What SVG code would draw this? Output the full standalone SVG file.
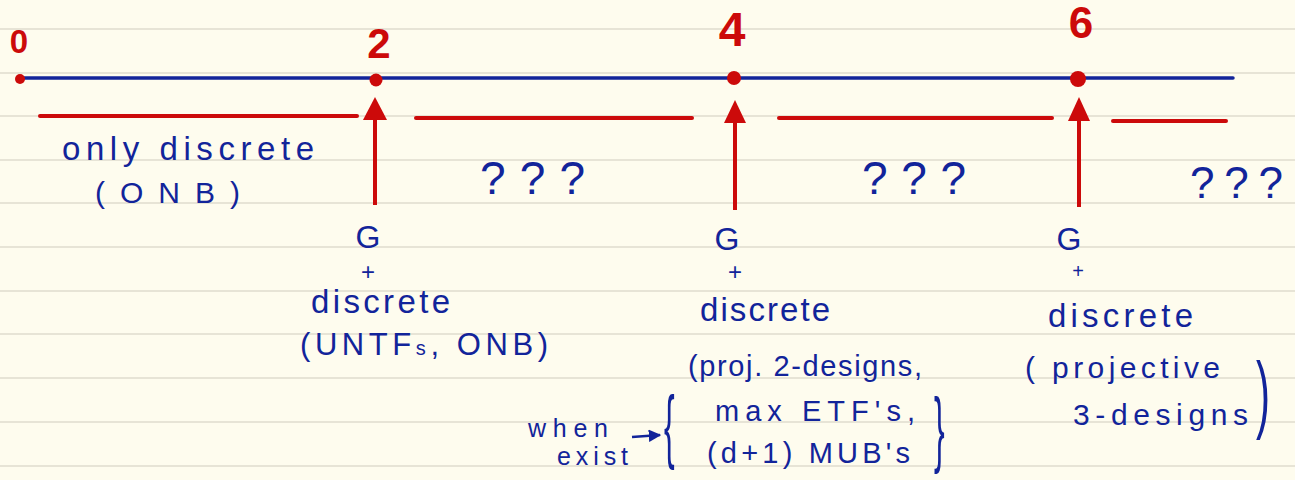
<svg xmlns="http://www.w3.org/2000/svg" width="1295" height="480" viewBox="0 0 1295 480">
<style>
.bg{fill:#fefcee}
.rule{stroke:#e7e4d6;stroke-width:2}
.t{font-family:"Liberation Sans",Arial,sans-serif;fill:#12249a}
.r{font-family:"Liberation Sans",Arial,sans-serif;fill:#cc0a0a;font-weight:bold}
.seg{stroke:#cc0a0a;stroke-width:4;stroke-linecap:round}
.axis{stroke:#12249a;stroke-width:3.5;stroke-linecap:round}
.arr{stroke:#cc0a0a;stroke-width:4}
.head{fill:#cc0a0a}
.dot{fill:#cc0a0a}
</style>
<defs>
<marker id="ah" viewBox="0 0 10 10" refX="9" refY="5" markerWidth="5" markerHeight="5" orient="auto"><path d="M0,0 L10,5 L0,10 z" fill="#12249a"/></marker>
</defs>
<rect class="bg" width="1295" height="480"/>
<g id="rules">
<line class="rule" x1="0" y1="29" x2="1295" y2="29"/>
<line class="rule" x1="0" y1="73" x2="1295" y2="73"/>
<line class="rule" x1="0" y1="116" x2="1295" y2="116"/>
<line class="rule" x1="0" y1="160" x2="1295" y2="160"/>
<line class="rule" x1="0" y1="203" x2="1295" y2="203"/>
<line class="rule" x1="0" y1="247" x2="1295" y2="247"/>
<line class="rule" x1="0" y1="291" x2="1295" y2="291"/>
<line class="rule" x1="0" y1="334" x2="1295" y2="334"/>
<line class="rule" x1="0" y1="378" x2="1295" y2="378"/>
<line class="rule" x1="0" y1="422" x2="1295" y2="422"/>
<line class="rule" x1="0" y1="466" x2="1295" y2="466"/>
</g>
<g id="axis">
<line class="axis" x1="20" y1="78" x2="1233" y2="78"/>
</g>
<g id="tick0">
<circle class="dot" cx="20" cy="79" r="5"/>
<text class="r" x="19" y="53" font-size="33" text-anchor="middle" font-weight="normal">0</text>
</g>
<g id="tick2">
<circle class="dot" cx="376" cy="80" r="6.5"/>
<text class="r" x="379" y="58" font-size="42" text-anchor="middle">2</text>
</g>
<g id="tick4">
<circle class="dot" cx="734" cy="78" r="7"/>
<text class="r" x="732" y="46" font-size="48" text-anchor="middle">4</text>
</g>
<g id="tick6">
<circle class="dot" cx="1078" cy="79" r="8"/>
<text class="r" x="1081" y="38" font-size="44" text-anchor="middle">6</text>
</g>
<g id="segments">
<line class="seg" x1="40" y1="116" x2="357" y2="116"/>
<line class="seg" x1="416" y1="118" x2="692" y2="118"/>
<line class="seg" x1="779" y1="118" x2="1052" y2="118"/>
<line class="seg" x1="1113" y1="121" x2="1226" y2="121"/>
</g>
<g id="connectors">
<line class="arr" x1="375" y1="205" x2="375" y2="115"/>
<path class="head" d="M375,97 L387,120 L363,120 z"/>
<line class="arr" x1="735" y1="210" x2="735" y2="116"/>
<path class="head" d="M735,100 L746,123 L724,123 z"/>
<line class="arr" x1="1079" y1="207" x2="1079" y2="115"/>
<path class="head" d="M1079,97 L1090,121 L1068,121 z"/>
</g>
<g id="region1">
<text class="t" x="62" y="160" font-size="33" textLength="252" lengthAdjust="spacing">only  discrete</text>
<text class="t" x="95" y="203" font-size="30" textLength="145" lengthAdjust="spacing">(ONB)</text>
</g>
<g id="q1"><text class="t" x="480" y="194" font-size="46" textLength="105" lengthAdjust="spacing">???</text></g>
<g id="q2"><text class="t" x="862" y="194" font-size="46" textLength="104" lengthAdjust="spacing">???</text></g>
<g id="q3"><text class="t" x="1190" y="198" font-size="44" textLength="93" lengthAdjust="spacing">???</text></g>
<g id="label2">
<text class="t" x="368" y="248" font-size="32" text-anchor="middle">G</text>
<text class="t" x="368" y="280" font-size="24" text-anchor="middle">+</text>
<text class="t" x="311" y="313" font-size="33" textLength="139" lengthAdjust="spacing">discrete</text>
<text class="t" x="300" y="355" font-size="31" textLength="248" lengthAdjust="spacing">(UNTF<tspan font-size="20">s</tspan>, ONB)</text>
</g>
<g id="label4">
<text class="t" x="727" y="250" font-size="32" text-anchor="middle">G</text>
<text class="t" x="735" y="280" font-size="24" text-anchor="middle">+</text>
<text class="t" x="700" y="321" font-size="33" textLength="130" lengthAdjust="spacing">discrete</text>
<text class="t" x="688" y="376" font-size="29" textLength="234" lengthAdjust="spacing">(proj. 2-designs,</text>
<text class="t" x="715" y="421" font-size="29" textLength="200" lengthAdjust="spacing">max ETF's,</text>
<text class="t" x="707" y="463" font-size="29" textLength="203" lengthAdjust="spacing">(d+1) MUB's</text>
<text class="t" x="664" y="453" font-size="58" transform="translate(664 453) scale(0.55 1.4) translate(-664 -453)">{</text>
<text class="t" x="934" y="457" font-size="58" transform="translate(934 457) scale(0.55 1.45) translate(-934 -457)">}</text>
<text class="t" x="528" y="437" font-size="25" textLength="80" lengthAdjust="spacing">when</text>
<text class="t" x="557" y="465" font-size="25" textLength="71" lengthAdjust="spacing">exist</text>
<line x1="632" y1="437" x2="660" y2="435" stroke="#12249a" stroke-width="2.5" marker-end="url(#ah)"/>
</g>
<g id="label6">
<text class="t" x="1069" y="250" font-size="32" text-anchor="middle">G</text>
<text class="t" x="1078" y="278" font-size="20" text-anchor="middle">+</text>
<text class="t" x="1048" y="327" font-size="33" textLength="145" lengthAdjust="spacing">discrete</text>
<text class="t" x="1025" y="378" font-size="30" textLength="195" lengthAdjust="spacing">( projective</text>
<text class="t" x="1073" y="425" font-size="30" textLength="175" lengthAdjust="spacing">3-designs</text>
<text class="t" x="1256" y="422" font-size="60" transform="translate(1256 422) scale(0.7 1.43) translate(-1256 -422)">)</text>
</g>
</svg>
